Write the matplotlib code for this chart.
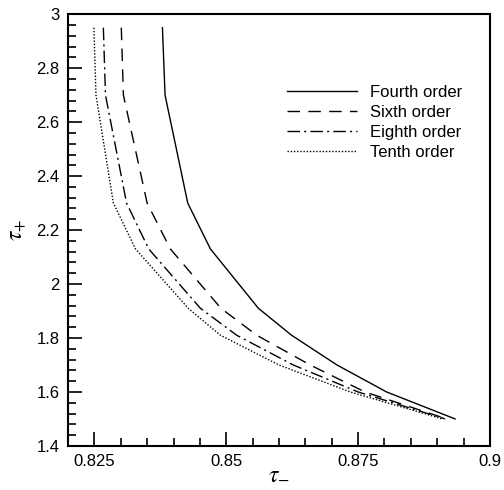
import numpy as np
import matplotlib
matplotlib.use("Agg")
import matplotlib.pyplot as plt
from matplotlib.ticker import MultipleLocator, FuncFormatter

plt.rcParams['font.family'] = ['Liberation Sans', 'DejaVu Sans']
plt.rcParams['mathtext.fontset'] = 'stix'

# tau_+ levels shared by all curves
tau_plus = [2.95, 2.7, 2.3, 2.13, 1.91, 1.81, 1.7, 1.6, 1.5]

# tau_- values
fourth = [0.8379, 0.8384, 0.8427, 0.8470, 0.8561, 0.8624, 0.8710, 0.8804, 0.8934]
sixth = [0.8301, 0.8305, 0.8350, 0.8394, 0.8490, 0.8558, 0.8659, 0.8763, 0.8918]
eighth = [0.8267, 0.8271, 0.8311, 0.8353, 0.8451, 0.8520, 0.8627, 0.8750, 0.8915]
tenth = [0.8249, 0.8253, 0.8286, 0.8328, 0.8428, 0.8489, 0.8600, 0.8735, 0.8910]

labels = ["Fourth order", "Sixth order", "Eighth order", "Tenth order"]

fig = plt.figure(figsize=(5.04, 4.90), dpi=100)
ax = fig.add_axes([0.135, 0.09, 0.837, 0.881])

ax.plot(fourth, tau_plus, color='black', lw=1.0, ls='-', label=labels[0])
ax.plot(sixth, tau_plus, color='black', lw=1.0, ls=(0, (9, 6)), label=labels[1])
ax.plot(eighth, tau_plus, color='black', lw=1.0, ls=(0, (9, 3, 1.5, 3)), label=labels[2])
ax.plot(tenth, tau_plus, color='black', lw=1.0, ls=(0, (1, 1.3)), label=labels[3])

ax.set_xlim(0.82, 0.9)
ax.set_ylim(1.4, 3.0)

ax.xaxis.set_major_locator(MultipleLocator(0.025))
ax.xaxis.set_minor_locator(MultipleLocator(0.005))
ax.yaxis.set_major_locator(MultipleLocator(0.2))
ax.yaxis.set_minor_locator(MultipleLocator(0.04))
fmt = FuncFormatter(lambda v, p: '%g' % round(v, 4))
ax.xaxis.set_major_formatter(fmt)
ax.yaxis.set_major_formatter(fmt)

ax.tick_params(which='both', direction='in', top=False, right=False, labelsize=12, width=1.2)
ax.tick_params(which='major', length=10, pad=6)
ax.tick_params(which='minor', length=6)
for s in ax.spines.values():
    s.set_linewidth(1.5)

ax.set_xlabel(r'$\tau_{-}$', fontsize=17)
ax.xaxis.set_label_coords(0.5, -0.038)
ax.set_ylabel(r'$\tau_{+}$', fontsize=17)
ax.yaxis.set_label_coords(-0.095, 0.5)

ax.legend(loc='upper right', bbox_to_anchor=(0.97, 0.87), frameon=False, fontsize=12,
          handlelength=4.2, handletextpad=0.8, labelspacing=0.3)

fig.savefig('out.png', dpi=100)
